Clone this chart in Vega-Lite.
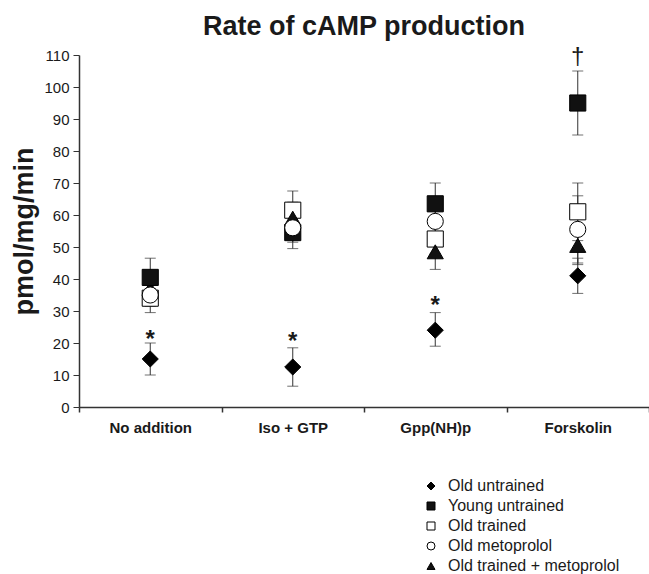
{
  "$schema": "https://vega.github.io/schema/vega-lite/v6.json",
  "width": 570,
  "height": 352,
  "autosize": {"type": "none"},
  "padding": {"left": 79, "top": 55, "right": 0, "bottom": 167},
  "background": "white",
  "title": {
    "text": "Rate of cAMP production",
    "font": "Liberation Sans",
    "fontSize": 27,
    "fontWeight": "bold",
    "color": "#1a1a1a",
    "anchor": "middle",
    "offset": 4
  },
  "config": {
    "view": {"stroke": null},
    "axis": {"grid": false, "domainColor": "#333", "tickColor": "#333", "domainWidth": 1.5, "labelColor": "#1a1a1a", "titleColor": "#1a1a1a"},
    "axisY": {"labelOverlap": false, "labelFlush": false, "labelBound": false, "labelFont": "Liberation Sans", "labelFontSize": 15, "labelPadding": 4, "tickSize": 6},
    "legend": {"symbolStrokeColor": "black", "symbolStrokeWidth": 1}
  },
  "datasets": {
    "pts": [
      {"condition": "No addition", "group": "Old untrained", "mean": 15, "lo": 10, "hi": 20},
      {"condition": "No addition", "group": "Old trained + metoprolol", "mean": 37, "lo": 32, "hi": 42},
      {"condition": "No addition", "group": "Young untrained", "mean": 40.5, "lo": 35, "hi": 46.5},
      {"condition": "No addition", "group": "Old trained", "mean": 34, "lo": 31.5, "hi": 37},
      {"condition": "No addition", "group": "Old metoprolol", "mean": 35, "lo": 29.5, "hi": 40},
      {"condition": "Iso + GTP", "group": "Old untrained", "mean": 12.5, "lo": 6.5, "hi": 18.5},
      {"condition": "Iso + GTP", "group": "Young untrained", "mean": 54.5, "lo": 49.5, "hi": 59.5},
      {"condition": "Iso + GTP", "group": "Old trained", "mean": 61.5, "lo": 56, "hi": 67.5},
      {"condition": "Iso + GTP", "group": "Old trained + metoprolol", "mean": 59, "lo": 54, "hi": 64},
      {"condition": "Iso + GTP", "group": "Old metoprolol", "mean": 56, "lo": 51.5, "hi": 60.5},
      {"condition": "Gpp(NH)p", "group": "Old untrained", "mean": 24, "lo": 19, "hi": 29.5},
      {"condition": "Gpp(NH)p", "group": "Old trained", "mean": 52.5, "lo": 48, "hi": 57},
      {"condition": "Gpp(NH)p", "group": "Old trained + metoprolol", "mean": 48.5, "lo": 43, "hi": 54},
      {"condition": "Gpp(NH)p", "group": "Young untrained", "mean": 63.5, "lo": 57, "hi": 70},
      {"condition": "Gpp(NH)p", "group": "Old metoprolol", "mean": 58, "lo": 53, "hi": 63},
      {"condition": "Forskolin", "group": "Old untrained", "mean": 41, "lo": 35.5, "hi": 46.5},
      {"condition": "Forskolin", "group": "Young untrained", "mean": 95, "lo": 85, "hi": 105},
      {"condition": "Forskolin", "group": "Old trained", "mean": 61, "lo": 52, "hi": 70},
      {"condition": "Forskolin", "group": "Old metoprolol", "mean": 55.5, "lo": 45, "hi": 66},
      {"condition": "Forskolin", "group": "Old trained + metoprolol", "mean": 50.5, "lo": 44.5, "hi": 57}
    ],
    "notes": [
      {"condition": "No addition", "y": 22.5, "label": "*"},
      {"condition": "Iso + GTP", "y": 22, "label": "*"},
      {"condition": "Gpp(NH)p", "y": 33, "label": "*"}
    ],
    "dagger": [
      {"condition": "Forskolin", "y": 109.5, "label": "†"}
    ]
  },
  "encoding": {
    "x": {
      "field": "condition",
      "type": "nominal",
      "sort": ["No addition", "Iso + GTP", "Gpp(NH)p", "Forskolin"],
      "scale": {"domain": ["No addition", "Iso + GTP", "Gpp(NH)p", "Forskolin"], "paddingInner": 0, "paddingOuter": 0},
      "axis": {
        "title": null,
        "labelAngle": 0,
        "labelFont": "Liberation Sans",
        "labelFontSize": 15,
        "labelFontWeight": "bold",
        "labelPadding": 8,
        "tickBand": "extent",
        "tickSize": 5,
        "tickWidth": 1.5,
        "ticks": true
      }
    }
  },
  "layer": [
    {
      "data": {"name": "pts"},
      "mark": {"type": "rule", "color": "#333", "strokeWidth": 1},
      "encoding": {
        "y": {
          "field": "lo",
          "type": "quantitative",
          "scale": {"domain": [0, 110], "nice": false},
          "axis": {
            "values": [0, 10, 20, 30, 40, 50, 60, 70, 80, 90, 100, 110],
            "title": "pmol/mg/min",
            "titleFont": "Liberation Sans",
            "titleFontSize": 27,
            "titleFontWeight": "bold",
            "titleAngle": -90,
            "titleX": -55,
            "titleY": 176,
            "titleAlign": "center",
            "titleBaseline": "middle"
          }
        },
        "y2": {"field": "hi"}
      }
    },
    {
      "data": {"name": "pts"},
      "mark": {"type": "tick", "color": "#333", "thickness": 1, "size": 11},
      "encoding": {"y": {"field": "lo", "type": "quantitative", "axis": {
            "values": [0, 10, 20, 30, 40, 50, 60, 70, 80, 90, 100, 110],
            "title": "pmol/mg/min",
            "titleFont": "Liberation Sans",
            "titleFontSize": 27,
            "titleFontWeight": "bold",
            "titleAngle": -90,
            "titleX": -55,
            "titleY": 176,
            "titleAlign": "center",
            "titleBaseline": "middle"
          }}}
    },
    {
      "data": {"name": "pts"},
      "mark": {"type": "tick", "color": "#333", "thickness": 1, "size": 11},
      "encoding": {"y": {"field": "hi", "type": "quantitative", "axis": {
            "values": [0, 10, 20, 30, 40, 50, 60, 70, 80, 90, 100, 110],
            "title": "pmol/mg/min",
            "titleFont": "Liberation Sans",
            "titleFontSize": 27,
            "titleFontWeight": "bold",
            "titleAngle": -90,
            "titleX": -55,
            "titleY": 176,
            "titleAlign": "center",
            "titleBaseline": "middle"
          }}}
    },
    {
      "data": {"name": "pts"},
      "mark": {"type": "point", "filled": true, "strokeWidth": 1, "size": 260, "opacity": 1},
      "encoding": {
        "y": {"field": "mean", "type": "quantitative", "axis": {
            "values": [0, 10, 20, 30, 40, 50, 60, 70, 80, 90, 100, 110],
            "title": "pmol/mg/min",
            "titleFont": "Liberation Sans",
            "titleFontSize": 27,
            "titleFontWeight": "bold",
            "titleAngle": -90,
            "titleX": -55,
            "titleY": 176,
            "titleAlign": "center",
            "titleBaseline": "middle"
          }},
        "shape": {
          "field": "group",
          "type": "nominal",
          "scale": {
            "domain": ["Old untrained", "Young untrained", "Old trained", "Old metoprolol", "Old trained + metoprolol"],
            "range": ["diamond", "square", "square", "circle", "triangle-up"]
          },
          "legend": {
            "title": null,
            "orient": "none",
            "legendX": 344,
            "legendY": 423,
            "labelFont": "Liberation Sans",
            "labelFontSize": 16,
            "labelColor": "#1a1a1a",
            "labelLimit": 400,
            "symbolSize": 64,
            "labelOffset": 9,
            "rowPadding": 4,
            "padding": 0
          }
        },
        "fill": {
          "field": "group",
          "type": "nominal",
          "scale": {
            "domain": ["Old untrained", "Young untrained", "Old trained", "Old metoprolol", "Old trained + metoprolol"],
            "range": ["black", "#111", "white", "white", "#111"]
          },
          "legend": {
            "title": null,
            "orient": "none",
            "legendX": 344,
            "legendY": 423,
            "labelFont": "Liberation Sans",
            "labelFontSize": 16,
            "labelColor": "#1a1a1a",
            "labelLimit": 400,
            "symbolSize": 64,
            "labelOffset": 9,
            "rowPadding": 4,
            "padding": 0
          }
        },
        "stroke": {
          "field": "group",
          "type": "nominal",
          "scale": {
            "domain": ["Old untrained", "Young untrained", "Old trained", "Old metoprolol", "Old trained + metoprolol"],
            "range": ["black", "black", "black", "black", "black"]
          },
          "legend": {
            "title": null,
            "orient": "none",
            "legendX": 344,
            "legendY": 423,
            "labelFont": "Liberation Sans",
            "labelFontSize": 16,
            "labelColor": "#1a1a1a",
            "labelLimit": 400,
            "symbolSize": 64,
            "labelOffset": 9,
            "rowPadding": 4,
            "padding": 0
          }
        }
      }
    },
    {
      "data": {"name": "notes"},
      "mark": {"type": "text", "font": "Liberation Sans", "fontSize": 24, "fontWeight": "bold", "color": "#1a1a1a", "baseline": "middle", "dy": 5},
      "encoding": {
        "y": {"field": "y", "type": "quantitative", "axis": {
            "values": [0, 10, 20, 30, 40, 50, 60, 70, 80, 90, 100, 110],
            "title": "pmol/mg/min",
            "titleFont": "Liberation Sans",
            "titleFontSize": 27,
            "titleFontWeight": "bold",
            "titleAngle": -90,
            "titleX": -55,
            "titleY": 176,
            "titleAlign": "center",
            "titleBaseline": "middle"
          }},
        "text": {"field": "label"}
      }
    },
    {
      "data": {"name": "dagger"},
      "mark": {"type": "text", "font": "Liberation Sans", "fontSize": 24, "color": "#1a1a1a", "baseline": "middle"},
      "encoding": {
        "y": {"field": "y", "type": "quantitative", "axis": {
            "values": [0, 10, 20, 30, 40, 50, 60, 70, 80, 90, 100, 110],
            "title": "pmol/mg/min",
            "titleFont": "Liberation Sans",
            "titleFontSize": 27,
            "titleFontWeight": "bold",
            "titleAngle": -90,
            "titleX": -55,
            "titleY": 176,
            "titleAlign": "center",
            "titleBaseline": "middle"
          }},
        "text": {"field": "label"}
      }
    }
  ]
}
